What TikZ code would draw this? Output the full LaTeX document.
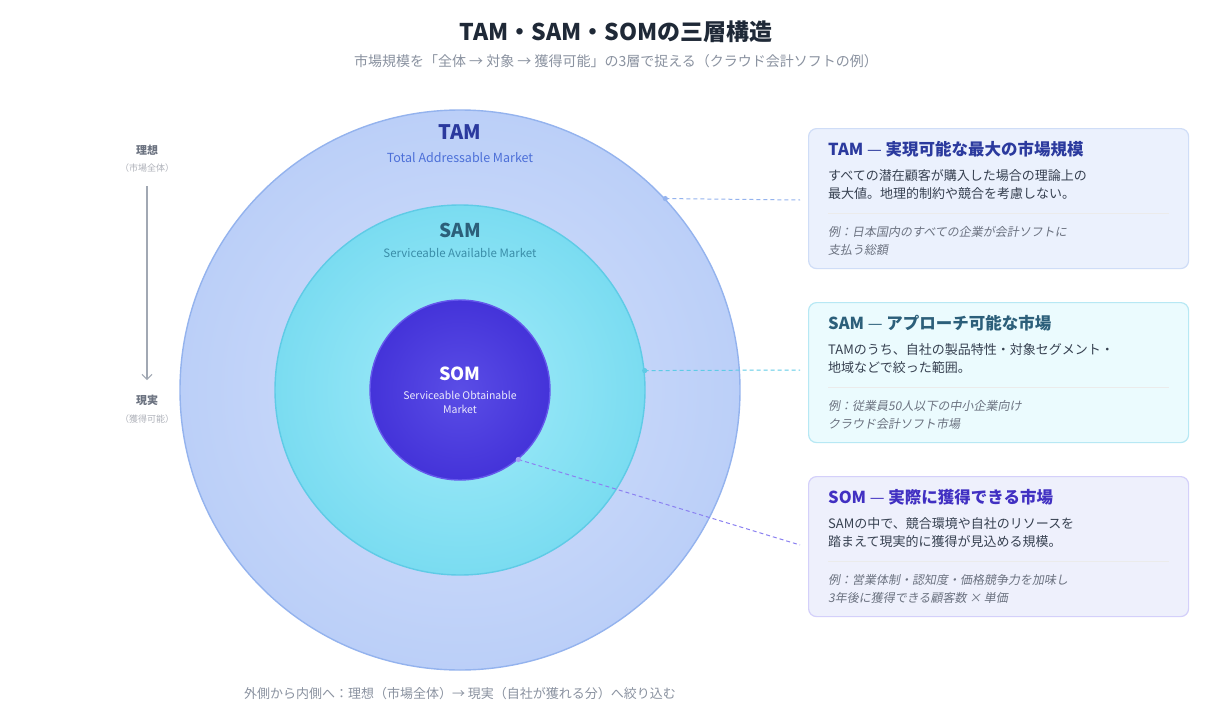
\documentclass[tikz,border=0pt]{standalone}
\usepackage{fontspec}
\setmainfont{Noto Sans CJK JP}
\newfontfamily\exfont{Noto Sans CJK JP}[FakeSlant=0.18]
\usepackage{tikz}
\usetikzlibrary{positioning,arrows.meta}

\definecolor{inkdark}{HTML}{1F2937}
\definecolor{inkbody}{HTML}{374151}
\definecolor{inkmute}{HTML}{8A92A0}
\definecolor{inkex}{HTML}{6B7280}
\definecolor{tamline}{HTML}{94B3EE}
\definecolor{tamin}{HTML}{D3DFFB}
\definecolor{tamout}{HTML}{BBCFF8}
\definecolor{tamhead}{HTML}{2B3A9E}
\definecolor{tamsub}{HTML}{4C6FD8}
\definecolor{samline}{HTML}{5FCBE6}
\definecolor{samin}{HTML}{A3ECF9}
\definecolor{samout}{HTML}{7ADCF1}
\definecolor{samhead}{HTML}{2C5F7A}
\definecolor{samsub}{HTML}{3A8DA8}
\definecolor{somline}{HTML}{6457EC}
\definecolor{somin}{HTML}{5A4DE6}
\definecolor{somout}{HTML}{4433D9}
\definecolor{somhead}{HTML}{4130C2}
\definecolor{somcard}{HTML}{EEF0FC}

\newcommand{\dashsep}{{\mdseries\ —\ }}

\begin{document}
\begin{tikzpicture}[x=1pt,y=-1pt]
    \tikzstyle{ring}=[circle,inner sep=0pt,line width=1.4pt]
    \tikzstyle{card}=[rectangle,rounded corners=8pt,line width=1.2pt,minimum width=380pt,minimum height=140pt,anchor=north west,inner sep=0pt]
    \tikzstyle{cardhead}=[anchor=base west,inner sep=0pt,font=\fontsize{16.5}{18}\selectfont\bfseries]
    \tikzstyle{cardbody}=[anchor=base west,inner sep=0pt,align=left,text=inkbody,font=\fontsize{13}{18}\selectfont]
    \tikzstyle{cardex}=[anchor=base west,inner sep=0pt,align=left,text=inkex,font=\exfont\fontsize{12}{18}\selectfont]
    \tikzstyle{lead}=[dashed,dash pattern=on 4pt off 3pt,line width=1pt]
    \useasboundingbox[fill=white] (0,0) rectangle (1232,720);

    % heading
    \node[text=inkdark,font=\fontsize{23}{25}\selectfont\bfseries] (title) at (616,32) {TAM・SAM・SOMの三層構造};
    \node[text=inkmute,font=\fontsize{14}{16}\selectfont,below=5pt of title] (subtitle) {市場規模を「全体 → 対象 → 獲得可能」の3層で捉える（クラウド会計ソフトの例）};

    % circles
    \node[ring,minimum size=560pt,draw=tamline,inner color=tamin,outer color=tamout] (tam) at (460,390) {};
    \node[ring,minimum size=370pt,draw=samline,inner color=samin,outer color=samout] (sam) at (460,390) {};
    \node[ring,minimum size=180pt,draw=somline,inner color=somin,outer color=somout] (som) at (460,390) {};

    \node[text=tamhead,font=\fontsize{20}{22}\selectfont\bfseries] (tamname) at ([yshift=-23pt]tam.north) {TAM};
    \node[text=tamsub,font=\fontsize{12.5}{14}\selectfont,below=6pt of tamname] {Total Addressable Market};
    \node[text=samhead,font=\fontsize{19}{22}\selectfont\bfseries] (samname) at ([yshift=-26pt]sam.north) {SAM};
    \node[text=samsub,font=\fontsize{11.5}{14}\selectfont,below=4pt of samname] {Serviceable Available Market};
    \node[text=white,font=\fontsize{18}{20}\selectfont\bfseries] (somname) at ([yshift=16pt]som.center) {SOM};
    \node[text=white!88!somin,font=\fontsize{10.5}{14}\selectfont,align=center,below=3pt of somname] {Serviceable Obtainable\\Market};

    % left scale
    \node[text=inkex,font=\fontsize{11}{13}\selectfont\bfseries] (ideal) at (147,150) {理想};
    \node[text=inkex!55,font=\fontsize{9}{11}\selectfont,below=2pt of ideal] (idealsub) {（市場全体）};
    \node[text=inkex,font=\fontsize{11}{13}\selectfont\bfseries] (real) at (147,400) {現実};
    \node[text=inkex!55,font=\fontsize{9}{11}\selectfont,below=2pt of real] (realsub) {（獲得可能）};
    \draw[inkmute!80,line width=1.2pt,-{Straight Barb[length=5pt,width=10pt]},shorten <=10pt,shorten >=11pt] (idealsub.south) -- (real.north);

    % cards
    \node[card,fill=tamin!45,draw=tamline!45] (tambox) at (808,128) {};
    \node[card,fill=samin!22,draw=samline!45] (sambox) at (808,302) {};
    \node[card,fill=somcard,draw=somline!28] (sombox) at (808,476) {};

    \node[cardhead,text=tamhead] at ([xshift=20pt,yshift=-27pt]tambox.north west) {TAM\dashsep 実現可能な最大の市場規模};
    \node[cardbody] at ([xshift=20pt,yshift=-70pt]tambox.north west) {すべての潜在顧客が購入した場合の理論上の\\最大値。地理的制約や競合を考慮しない。};
    \draw[black!8,line width=0.8pt] ([xshift=20pt,yshift=-85pt]tambox.north west) -- ([xshift=-20pt,yshift=-85pt]tambox.north east);
    \node[cardex] at ([xshift=20pt,yshift=-126pt]tambox.north west) {例：日本国内のすべての企業が会計ソフトに\\支払う総額};

    \node[cardhead,text=samhead] at ([xshift=20pt,yshift=-27pt]sambox.north west) {SAM\dashsep アプローチ可能な市場};
    \node[cardbody] at ([xshift=20pt,yshift=-70pt]sambox.north west) {TAMのうち、自社の製品特性・対象セグメント・\\地域などで絞った範囲。};
    \draw[black!8,line width=0.8pt] ([xshift=20pt,yshift=-85pt]sambox.north west) -- ([xshift=-20pt,yshift=-85pt]sambox.north east);
    \node[cardex] at ([xshift=20pt,yshift=-126pt]sambox.north west) {例：従業員50人以下の中小企業向け\\クラウド会計ソフト市場};

    \node[cardhead,text=somhead] at ([xshift=20pt,yshift=-27pt]sombox.north west) {SOM\dashsep 実際に獲得できる市場};
    \node[cardbody] at ([xshift=20pt,yshift=-70pt]sombox.north west) {SAMの中で、競合環境や自社のリソースを\\踏まえて現実的に獲得が見込める規模。};
    \draw[black!8,line width=0.8pt] ([xshift=20pt,yshift=-85pt]sombox.north west) -- ([xshift=-20pt,yshift=-85pt]sombox.north east);
    \node[cardex] at ([xshift=20pt,yshift=-126pt]sombox.north west) {例：営業体制・認知度・価格競争力を加味し\\3年後に獲得できる顧客数 × 単価};

    % leaders
    \coordinate (tamend) at ([xshift=-8pt,yshift=-72pt]tambox.north west);
    \coordinate (samend) at ([xshift=-8pt,yshift=-68pt]sambox.north west);
    \coordinate (somend) at ([xshift=-8pt,yshift=-69pt]sombox.north west);
    \draw[lead,tamline] (tam.43) -- (tamend);
    \draw[lead,samline] (sam.6) -- (samend);
    \draw[lead,somline!75] (som.-50) -- (somend);
    \fill[tamline] (tam.43) circle (2.6pt);
    \fill[samline] (sam.6) circle (2.6pt);
    \fill[somline!60] (som.-50) circle (2.6pt);

    % caption
    \node[text=inkmute,font=\fontsize{13}{16}\selectfont] (caption) at (460,694) {外側から内側へ：理想（市場全体）→ 現実（自社が獲れる分）へ絞り込む};
\end{tikzpicture}
\end{document}
